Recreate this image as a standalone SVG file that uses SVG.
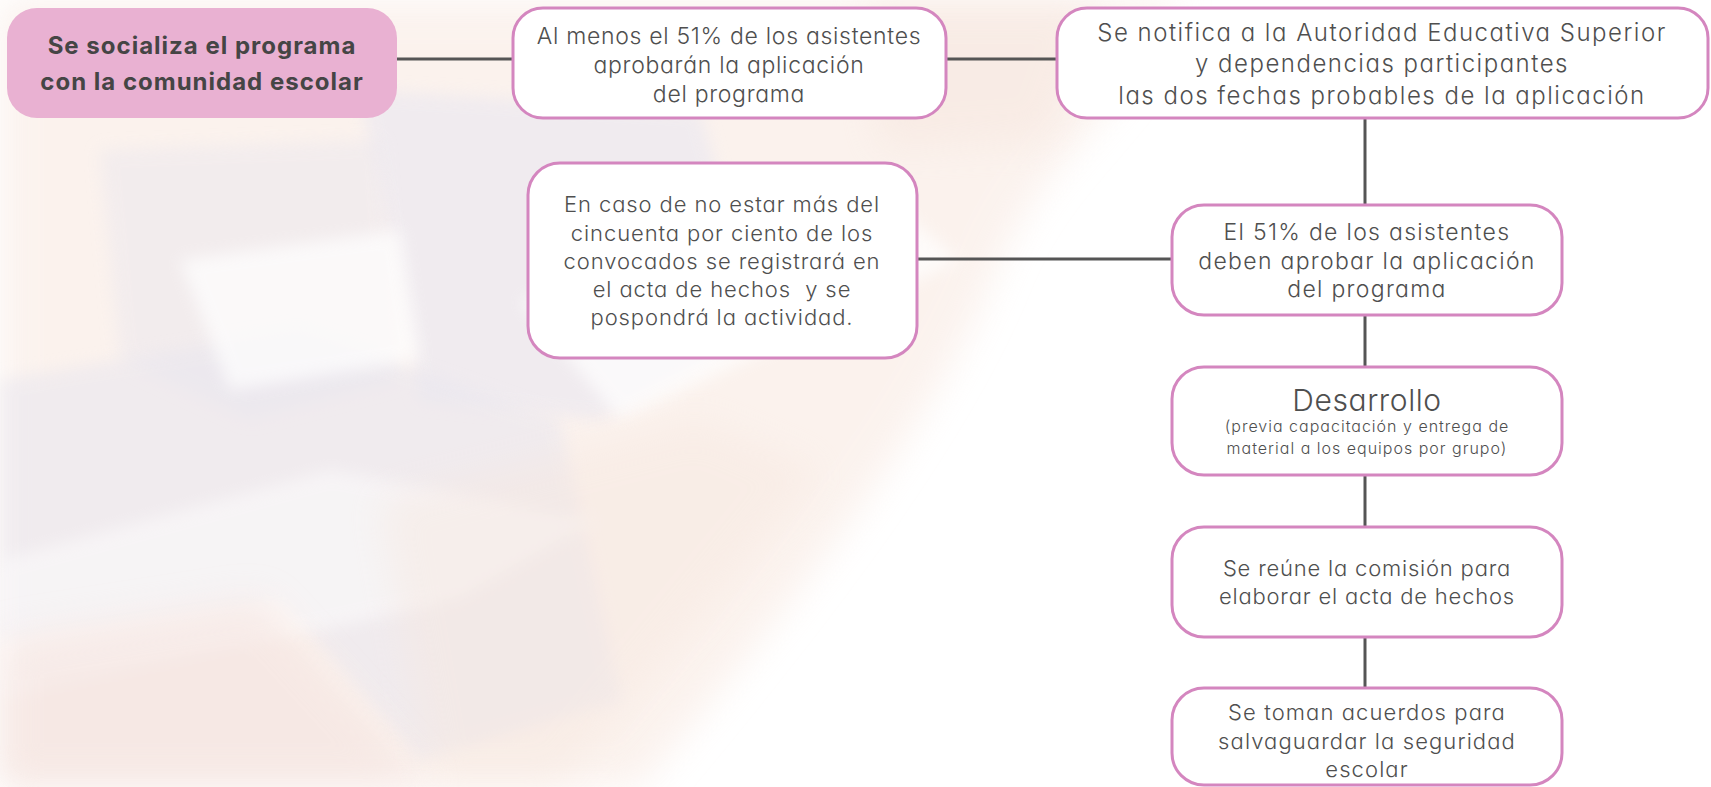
<svg xmlns="http://www.w3.org/2000/svg" width="1711" height="787" viewBox="0 0 1711 787">
<defs>
<filter id="soft" x="-20%" y="-20%" width="140%" height="140%"><feGaussianBlur stdDeviation="18"/></filter>
<filter id="soft2" x="-20%" y="-20%" width="140%" height="140%"><feGaussianBlur stdDeviation="8"/></filter>
<style>
.node{fill:#ffffff;stroke:#d486bf;stroke-width:3}
.root{fill:#e9b1d2;stroke:none}
.edge{stroke:#555555;stroke-width:3;fill:none}
.t{font-family:Inter,"Liberation Sans",sans-serif;font-weight:300;fill:#4f4f4f;text-anchor:middle;font-feature-settings:"cv11"}
.tb{font-family:Inter,"Liberation Sans",sans-serif;font-weight:700;fill:#454545;text-anchor:middle;font-size:24px;letter-spacing:1px}
</style>
</defs>
<rect width="1711" height="787" fill="#ffffff"/>
<g id="background">
<path d="M0,0 L1180,0 C1120,120 1050,150 1000,260 C940,420 780,620 640,787 L0,787 Z" fill="#f8e8e0" opacity="0.55" filter="url(#soft)"/>
<path d="M360,90 L700,110 L760,330 L600,420 L420,400 Z" fill="#e9e7f1" opacity="0.6" filter="url(#soft2)"/>
<path d="M100,150 L380,140 L400,380 L250,420 L120,360 Z" fill="#ece8ee" opacity="0.55" filter="url(#soft2)"/>
<path d="M0,380 L300,330 L560,420 L620,700 L420,760 L280,600 L0,640 Z" fill="#e8e6ef" opacity="0.55" filter="url(#soft2)"/>
<path d="M180,260 L400,230 L420,360 L230,390 Z" fill="#ffffff" opacity="0.7" filter="url(#soft2)"/>
<path d="M520,300 L900,210 L960,260 L620,420 Z" fill="#ffffff" opacity="0.7" filter="url(#soft2)"/>
<path d="M0,560 L330,470 L600,520 L460,600 L0,700 Z" fill="#ffffff" opacity="0.45" filter="url(#soft2)"/>
<path d="M0,640 L260,600 L430,787 L0,787 Z" fill="#f2dfdc" opacity="0.5" filter="url(#soft)"/>
<path d="M380,500 L700,420 L820,470 L560,787 L430,787 Z" fill="#f6e7df" opacity="0.45" filter="url(#soft)"/>
<path d="M860,0 L1100,0 L1050,140 L880,150 Z" fill="#f5e4dc" opacity="0.45" filter="url(#soft)"/>
</g>
<g id="connectors">
<line class="edge" x1="397" y1="59" x2="512" y2="59"/>
<line class="edge" x1="946" y1="59" x2="1056" y2="59"/>
<line class="edge" x1="917" y1="259" x2="1172" y2="259"/>
<line class="edge" x1="1365" y1="118" x2="1365" y2="205"/>
<line class="edge" x1="1365" y1="315" x2="1365" y2="367"/>
<line class="edge" x1="1365" y1="475" x2="1365" y2="527"/>
<line class="edge" x1="1365" y1="637" x2="1365" y2="688"/>
</g>
<g id="n-root">
<rect class="root" x="7" y="8" width="390" height="110" rx="30"/>
<text class="tb"><tspan x="202" y="54">Se socializa el programa</tspan><tspan x="202" y="90">con la comunidad escolar</tspan></text>
</g>
<g id="n-aprobaran">
<rect class="node" x="513" y="8" width="433" height="110" rx="30"/>
<text class="t" style="font-size:23px;letter-spacing:0.7px"><tspan x="729" y="44">Al menos el 51% de los asistentes</tspan><tspan x="729" y="73">aprobarán la aplicación</tspan><tspan x="729" y="102">del programa</tspan></text>
</g>
<g id="n-notifica">
<rect class="node" x="1057" y="8" width="651" height="110" rx="30"/>
<text class="t" style="font-size:24px;letter-spacing:1.5px"><tspan x="1382" y="41">Se notifica a la Autoridad Educativa Superior</tspan><tspan x="1382" y="72">y dependencias participantes</tspan><tspan x="1382" y="104">las dos fechas probables de la aplicación</tspan></text>
</g>
<g id="n-encaso">
<rect class="node" x="528" y="163" width="389" height="195" rx="32"/>
<text class="t" style="font-size:22px;letter-spacing:0.9px;white-space:pre"><tspan x="722" y="212">En caso de no estar más del</tspan><tspan x="722" y="241">cincuenta por ciento de los</tspan><tspan x="722" y="269">convocados se registrará en</tspan><tspan x="722" y="297">el acta de hechos  y se</tspan><tspan x="722" y="325">pospondrá la actividad.</tspan></text>
</g>
<g id="n-51">
<rect class="node" x="1172" y="205" width="390" height="110" rx="32"/>
<text class="t" style="font-size:23px;letter-spacing:1.3px"><tspan x="1367" y="240">El 51% de los asistentes</tspan><tspan x="1367" y="269">deben aprobar la aplicación</tspan><tspan x="1367" y="297">del programa</tspan></text>
</g>
<g id="n-desarrollo">
<rect class="node" x="1172" y="367" width="390" height="108" rx="32"/>
<text class="t"><tspan x="1367" y="411" style="font-size:30px;letter-spacing:0.6px">Desarrollo</tspan><tspan x="1367" y="432" style="font-size:16px;letter-spacing:1px">(previa capacitación y entrega de</tspan><tspan x="1367" y="454" style="font-size:16px;letter-spacing:1px">material a los equipos por grupo)</tspan></text>
</g>
<g id="n-reune">
<rect class="node" x="1172" y="527" width="390" height="110" rx="32"/>
<text class="t" style="font-size:22px;letter-spacing:0.8px"><tspan x="1367" y="576">Se reúne la comisión para</tspan><tspan x="1367" y="604">elaborar el acta de hechos</tspan></text>
</g>
<g id="n-toman">
<rect class="node" x="1172" y="688" width="390" height="97" rx="32"/>
<text class="t" style="font-size:22px;letter-spacing:1.1px"><tspan x="1367" y="720">Se toman acuerdos para</tspan><tspan x="1367" y="749">salvaguardar la seguridad</tspan><tspan x="1367" y="777">escolar</tspan></text>
</g>
</svg>
